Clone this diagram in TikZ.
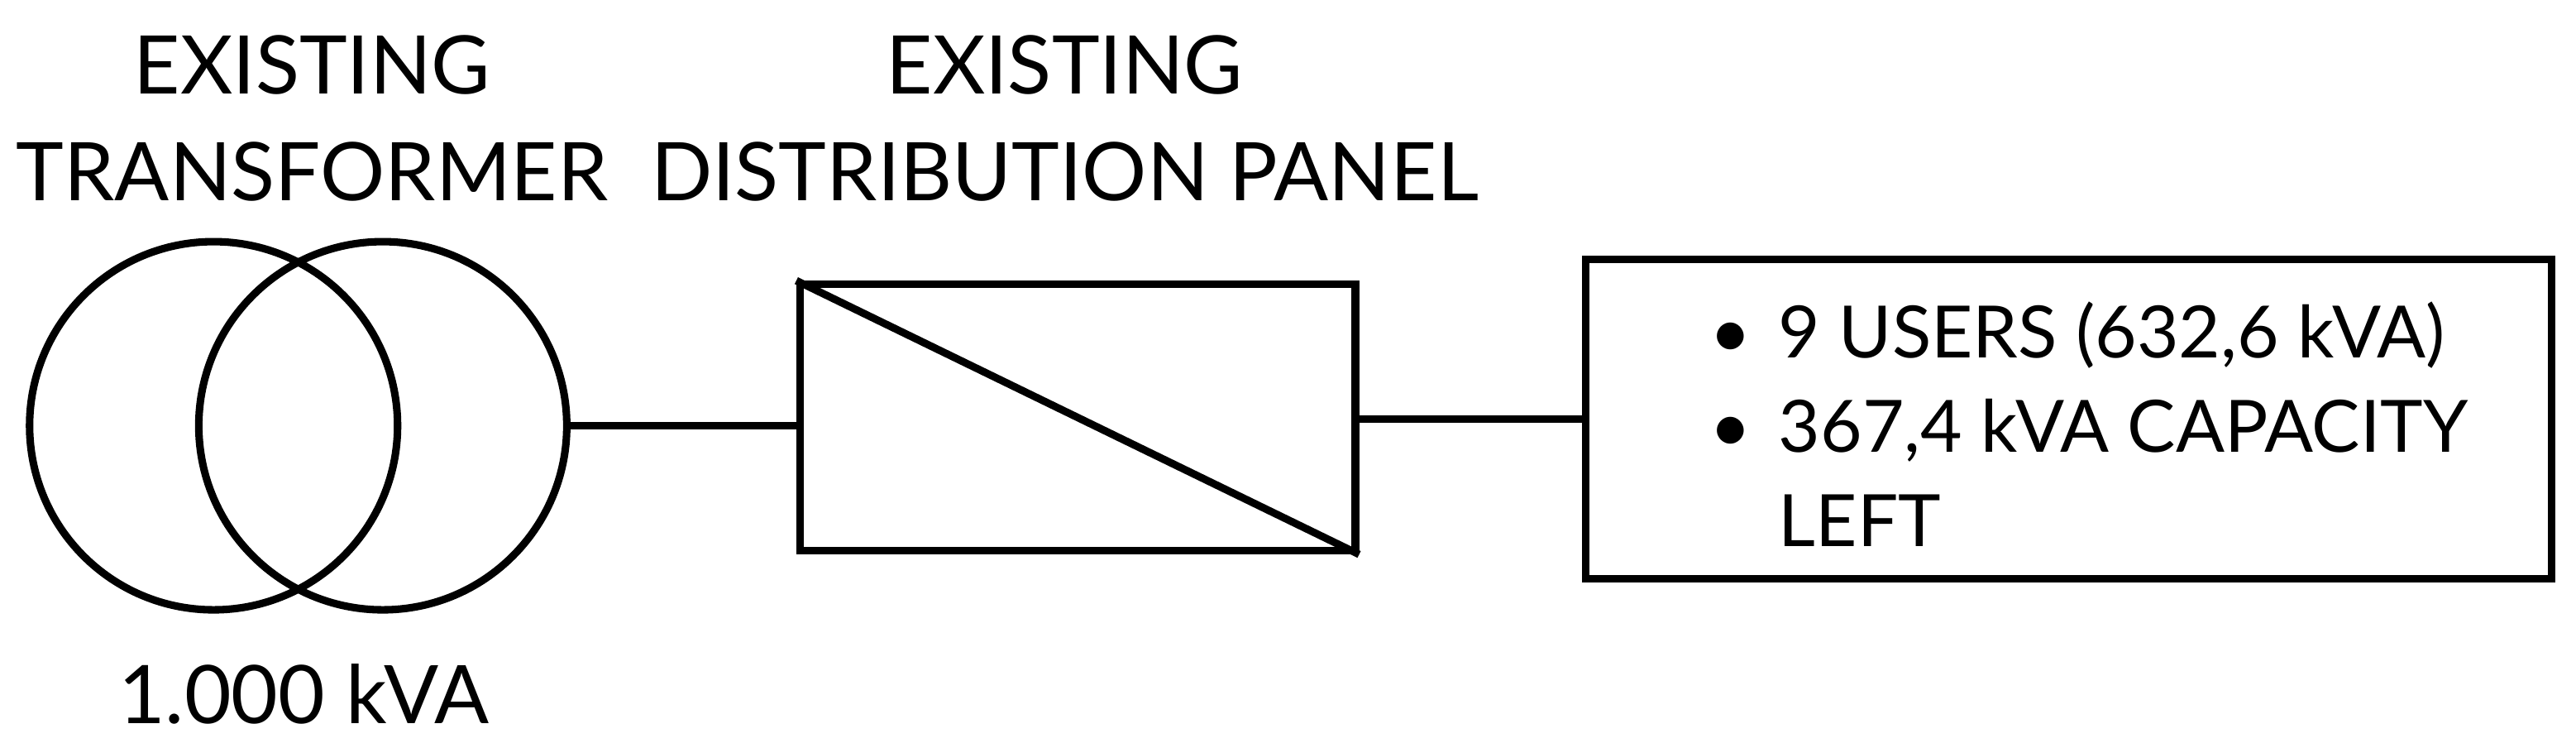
\documentclass[tikz,border=0pt]{standalone}
\usepackage{fontspec}
\setmainfont{Lato}
\usetikzlibrary{positioning}
\tikzset{
	wire/.style={line width=1.3pt},
	lbl/.style={font=\fontsize{14}{18.5}\selectfont,align=center,inner sep=0pt}
}
\begin{document}
\begin{tikzpicture}[x=1cm,y=1cm]
	\useasboundingbox (0,0) rectangle (15.68,4.52);
	% transformer
	\node[wire,draw,circle,minimum size=2.24cm,inner sep=0pt] (t1) at (1.30,1.93) {};
	\node[wire,draw,circle,minimum size=2.24cm,inner sep=0pt] (t2) at (2.33,1.93) {};
	\node[lbl] (tname) at (1.90,3.80) {EXISTING\\TRANSFORMER};
	\node[lbl] (tval) at (1.85,0.30) {1.000 kVA};

	% panel
	\node[wire,draw,minimum width=3.38cm,minimum height=1.62cm,inner sep=0pt] (p) at (6.56,1.98) {};
	\draw[wire] (p.north west) -- (p.south east);
	\node[lbl] (pname) at (6.48,3.80) {EXISTING\\DISTRIBUTION PANEL};

	% users box
	\node[wire,draw,minimum width=5.88cm,minimum height=1.94cm,inner sep=0pt] (u) at (12.59,1.97) {};
	\node[font=\fontsize{12.5}{16.3}\selectfont,align=left,inner sep=0pt,anchor=west] (utxt) at (10.40,1.94)
		{\makebox[0.42cm][l]{\textbullet}9 USERS (632,6 kVA)\\
		 \makebox[0.42cm][l]{\textbullet}367,4 kVA CAPACITY\\
		 \makebox[0.42cm][l]{}LEFT};

	% connectors
	\draw[wire] (t2.east) -- (t2.east -| p.west);
	\draw[wire] (p.east |- u.west) -- (u.west);
\end{tikzpicture}
\end{document}
